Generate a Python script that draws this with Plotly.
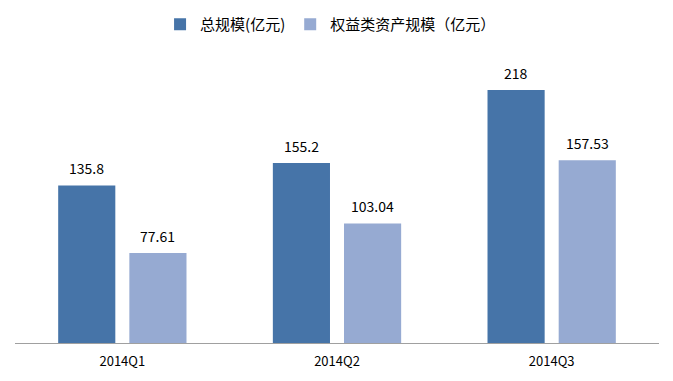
import plotly.graph_objects as go

categories = ["2014Q1", "2014Q2", "2014Q3"]
total_scale = [135.8, 155.2, 218]
equity_scale = [77.61, 103.04, 157.53]
series_names = ["总规模(亿元)", "权益类资产规模（亿元）"]
colors = ["#4674A8", "#96AAD2"]

font_family = "Noto Sans CJK SC, Noto Sans, sans-serif"

fig = go.Figure()
fig.add_trace(go.Bar(x=categories, y=total_scale, name=series_names[0],
                     marker=dict(color=colors[0], line=dict(width=0))))
fig.add_trace(go.Bar(x=categories, y=equity_scale, name=series_names[1],
                     marker=dict(color=colors[1], line=dict(width=0))))

annotations = []
for series, shift in ((total_scale, -35.5), (equity_scale, 35.5)):
    for c, v in zip(categories, series):
        annotations.append(dict(x=c, y=v, xref="x", yref="y", text=str(v),
                                showarrow=False, xshift=shift, yshift=17,
                                font=dict(size=14, color="#000000", family=font_family)))

# page body has an 8px default margin, so the figure is sized to fit the window
fig.update_layout(
    width=665, height=373,
    margin=dict(l=7, r=14, t=45, b=38),
    paper_bgcolor="white", plot_bgcolor="white",
    barmode="group", bargap=0.337, bargroupgap=0.197,
    font=dict(family=font_family, size=13, color="#000000"),
    showlegend=True,
    legend=dict(orientation="h", x=0.49, xanchor="center", y=1.0, yanchor="top",
                yref="container", font=dict(size=15), itemwidth=30,
                traceorder="normal"),
    annotations=annotations,
    xaxis=dict(showline=True, linecolor="#A0A0A0", linewidth=1, ticks="",
               showgrid=False, tickfont=dict(size=13), ticklabelstandoff=6),
    yaxis=dict(visible=False, range=[0, 250], showgrid=False, zeroline=False),
)

fig.write_html("out.html")
